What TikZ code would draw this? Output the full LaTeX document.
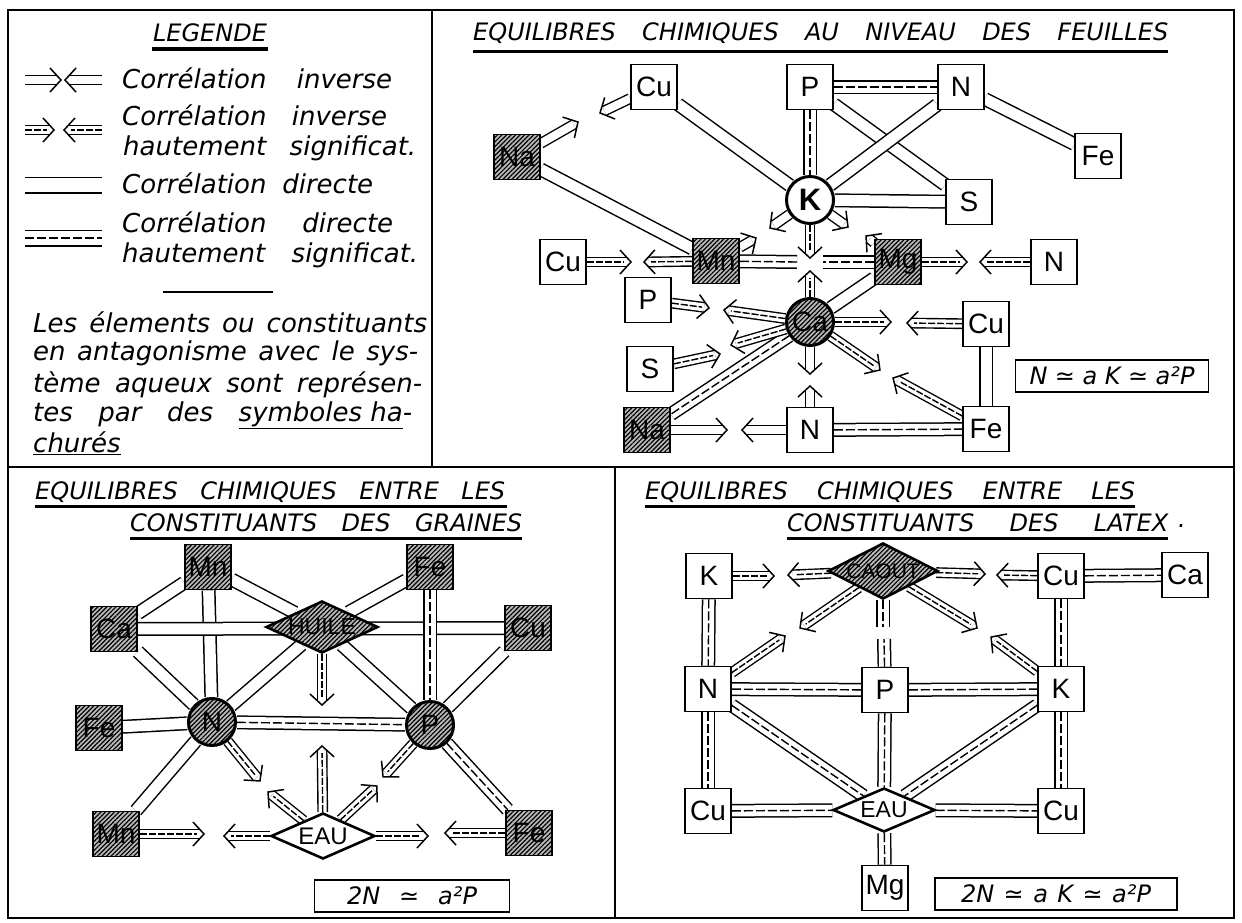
\documentclass[tikz,border=0pt]{standalone}
\usepackage{fontspec}
\setmainfont{Liberation Sans}
\newfontfamily\hand{DejaVu Sans}[ItalicFont={DejaVu Sans Oblique}]
\usetikzlibrary{arrows.meta,shapes.geometric,patterns.meta,calc,decorations.markings}
\pgfdeclarelayer{bg}
\pgfsetlayers{bg,main}
\newcommand\sprd[2]{\makebox[#1pt][s]{#2}}
\tikzset{
  el/.style={draw, line width=1.7pt, fill=white, minimum width=46pt, minimum height=45pt, inner sep=0pt, font=\fontsize{28}{28}\selectfont},
  hat/.style={pattern={Lines[angle=45,distance=3.2pt,line width=1.2pt]}, preaction={fill=gray!55}},
  hel/.style={el, hat},
  circ/.style={circle, draw, line width=3pt, fill=white, minimum size=47pt, inner sep=0pt, font=\fontsize{28}{28}\selectfont},
  hcirc/.style={circ, hat},
  dia/.style={diamond, draw, line width=2.6pt, fill=white, inner sep=0pt, aspect=2.2, font=\fontsize{23}{23}\selectfont},
  hdia/.style={dia, hat},
  eqbox/.style={draw, line width=1.6pt, fill=white, inner sep=0pt, minimum height=32pt, font=\hand\itshape\fontsize{24}{24}\selectfont},
  title/.style={anchor=west, inner sep=0pt, font=\hand\itshape\fontsize{24}{24}\selectfont},
  legtext/.style={anchor=west, inner sep=0pt, font=\hand\itshape\fontsize{26}{26}\selectfont},
  dir/.style={draw, line width=1.5pt, double=white, double distance=11pt},
  mid/.style={postaction={draw=black, -, double=black, double distance=0.3pt, line width=0.55pt, dash pattern=on 9pt off 3pt}},
  dirhs/.style={dir, mid},
  chevron/.style={postaction={decorate, decoration={markings, mark=at position 1 with {\draw[line width=1.5pt, solid, -, shorten >=0pt, shorten <=0pt, line join=miter] (-11pt,12pt) -- (0pt,0pt) -- (-11pt,-12pt);}}}},
  inv/.style={draw, line width=1.4pt, double=white, double distance=8pt, shorten >=5pt, chevron},
  invhs/.style={inv, postaction={draw=black, -, double=black, double distance=0.3pt, line width=0.55pt, dash pattern=on 7pt off 2pt, shorten >=7pt}},
  rule/.style={line width=3pt},
  frame/.style={line width=2.5pt},
}
\begin{document}
\begin{tikzpicture}[x=1pt,y=-1pt]
\useasboundingbox (0,0) rectangle (1242,922);
% frame
\draw[frame] (8,10) rectangle (1234,918);
\draw[frame] (432,10) -- (432,467);
\draw[frame] (8,467) -- (1234,467);
\draw[frame] (615,467) -- (615,918);

% ---------------- legend
\node[font=\hand\itshape\fontsize{24}{24}\selectfont, inner sep=0pt] (leg) at (210,33) {LEGENDE};
\draw[line width=4pt] (152,49) -- (268,49);
\coordinate (l1a) at (25,80); \coordinate (l1b) at (61,80);
\coordinate (l1c) at (102,80); \coordinate (l1d) at (65,80);
\draw[inv] (l1a) -- (l1b);
\draw[inv] (l1c) -- (l1d);
\coordinate (l2a) at (25,130); \coordinate (l2b) at (54,130);
\coordinate (l2c) at (102,130); \coordinate (l2d) at (64,130);
\draw[invhs] (l2a) -- (l2b);
\draw[invhs] (l2c) -- (l2d);
\coordinate (l3a) at (25,185); \coordinate (l3b) at (102,185);
\draw[dir, double distance=14pt] (l3a) -- (l3b);
\coordinate (l4a) at (25,238); \coordinate (l4b) at (102,238);
\draw[dirhs, double distance=14pt] (l4a) -- (l4b);
\node[legtext] (r1) at (122,78) {\sprd{270}{Corrélation inverse}};
\node[legtext] (r2a) at (122,115) {\sprd{265}{Corrélation inverse}};
\node[legtext] (r2b) at (123,148) {\sprd{293}{hautement significat.}};
\node[legtext] (r3) at (122,183) {\sprd{251}{Corrélation directe}};
\node[legtext] (r4a) at (122,222) {\sprd{271}{Corrélation directe}};
\node[legtext] (r4b) at (122,255) {\sprd{296}{hautement significat.}};
\draw[line width=1.5pt] (163,292) -- (273,292);
\node[legtext] (p1) at (33,322) {\sprd{394}{Les élements ou constituants}};
\node[legtext] (p2) at (33,353) {\sprd{385}{en antagonisme avec le sys-}};
\node[legtext] (p3) at (33,385) {\sprd{389}{tème aqueux sont représen-}};
\node[legtext] (p4) at (33,415) {\sprd{379}{tes par des \underline{symboles ha}-}};
\node[legtext] (p5) at (33,443) {\underline{churés}};

% ---------------- titles
\node[title] (T1) at (473,33) {\sprd{695}{EQUILIBRES CHIMIQUES AU NIVEAU DES FEUILLES}};
\draw[rule] (473,51) -- (1168,51);
\node[title] (T2) at (35,492) {\sprd{470}{EQUILIBRES CHIMIQUES ENTRE LES}};
\draw[rule] (35,506) -- (507,506);
\node[title] (T3) at (130,523) {\sprd{392}{CONSTITUANTS DES GRAINES}};
\draw[rule] (130,538) -- (522,538);
\node[title] (T4) at (645,492) {\sprd{490}{EQUILIBRES CHIMIQUES ENTRE LES}};
\draw[rule] (645,506) -- (1135,506);
\node[title] (T5) at (787,523) {\sprd{381}{CONSTITUANTS DES LATEX}};
\draw[rule] (787,538) -- (1168,538);
\node[title] (T6) at (1178,526) {.};

% ---------------- top right: feuilles
\node[el] (tCu) at (654,87) {Cu};
\node[el] (tP) at (810,87) {P};
\node[el] (tN) at (961,87) {N};
\node[el] (tFe) at (1098,156) {Fe};
\node[el] (tS) at (969,202) {S};
\node[hel] (tNa) at (517,157) {Na};
\node[circ, font=\bfseries\fontsize{31}{31}\selectfont] (tK) at (810,200) {K};
\node[hel] (tMn) at (716,261) {Mn};
\node[hel] (tMg) at (898,262) {Mg};
\node[el] (tCu2) at (563,262) {Cu};
\node[el] (tN2) at (1054,262) {N};
\node[el] (tP2) at (648,300) {P};
\node[hcirc] (tCa) at (810,322) {Ca};
\node[el] (tCu3) at (986,324) {Cu};
\node[el] (tS2) at (650,369) {S};
\node[hel] (tNa2) at (647,430) {Na};
\node[el] (tN3) at (810,430) {N};
\node[el] (tFe2) at (986,429) {Fe};
\node[eqbox, minimum width=193pt] (teq) at (1112,376) {\sprd{165}{N {\upshape≃} a K {\upshape≃} a²P}};

\coordinate (x1) at (578,122); \coordinate (x2) at (600,113);
\coordinate (x3) at (770,228); \coordinate (x4) at (756,238);
\coordinate (x5) at (848,227); \coordinate (x6) at (866,236);
\coordinate (x7) at (810,258); \coordinate (x8) at (810,271);
\coordinate (x9) at (631,262); \coordinate (x10) at (644,262);
\coordinate (x11) at (967,262); \coordinate (x12) at (980,262);
\coordinate (x13) at (709,308); \coordinate (x14) at (724,310);
\coordinate (x15) at (720,354); \coordinate (x16) at (731,345);
\coordinate (x17) at (891,322); \coordinate (x18) at (907,323);
\coordinate (x19) at (880,370); \coordinate (x20) at (893,378);
\coordinate (x21) at (810,374); \coordinate (x22) at (810,386);
\coordinate (x23) at (727,430); \coordinate (x24) at (742,430);
\coordinate (g1) at (797,262); \coordinate (g2) at (823,262);

\begin{pgfonlayer}{bg}
\draw[dir] (tCu) -- (tK);
\draw[dir] (tNa) -- (tMn);
\draw[dirhs] (tP) -- (tK);
\draw[dirhs] (tP) -- (tN);
\draw[dir] (tP) -- (tS);
\draw[dir] (tN) -- (tK);
\draw[dir] (tN) -- (tFe);
\draw[dir] (tK) -- (tS);
\draw[dir] (tCa) -- (tMg);
\draw[dirhs] (tCa) -- (tNa2);
\draw[dirhs] (tN3) -- (tFe2);
\draw[dir] (tCu3) -- (tFe2);
\draw[dirhs] (tMn) -- (g1);
\draw[dirhs] (tMg) -- (g2);
\draw[inv] (tNa) -- (x1);
\draw[inv] (tCu) -- (x2);
\draw[inv] (tK) -- (x3);
\draw[inv] (tMn) -- (x4);
\draw[inv] (tK) -- (x5);
\draw[inv] (tMg) -- (x6);
\draw[invhs] (tK) -- (x7);
\draw[invhs] (tCa) -- (x8);
\draw[invhs] (tCu2) -- (x9);
\draw[invhs] (tMn) -- (x10);
\draw[invhs] (tMg) -- (x11);
\draw[invhs] (tN2) -- (x12);
\draw[invhs] (tP2) -- (x13);
\draw[invhs] (tCa) -- (x14);
\draw[invhs] (tS2) -- (x15);
\draw[invhs] (tCa) -- (x16);
\draw[invhs] (tCa) -- (x17);
\draw[invhs] (tCu3) -- (x18);
\draw[invhs] (tCa) -- (x19);
\draw[invhs] (tFe2) -- (x20);
\draw[inv] (tCa) -- (x21);
\draw[inv] (tN3) -- (x22);
\draw[inv] (tNa2) -- (x23);
\draw[inv] (tN3) -- (x24);
\end{pgfonlayer}

% ---------------- bottom left: graines
\node[hel] (gMn) at (208,567) {Mn};
\node[hel] (gCa) at (114,629) {Ca};
\node[hel] (gFe) at (99,728) {Fe};
\node[hel] (gMn2) at (116,834) {Mn};
\node[hcirc] (gN) at (212,722) {N};
\node[hdia, minimum width=112pt, minimum height=52pt] (gH) at (322,627) {HUILE};
\node[dia, minimum width=104pt, minimum height=46pt, font=\fontsize{24}{24}\selectfont] (gE) at (323,836) {EAU};
\node[hel] (gFe2) at (430,567) {Fe};
\node[hel] (gCu) at (528,628) {Cu};
\node[hcirc] (gP) at (430,725) {P};
\node[hel] (gFe3) at (529,833) {Fe};
\node[eqbox, minimum width=195pt] (geq) at (412,896) {\sprd{130}{2N {\upshape≃} a²P}};

\coordinate (y1) at (260,781); \coordinate (y2) at (268,792);
\coordinate (y3) at (322,705); \coordinate (y4) at (322,746);
\coordinate (y5) at (383,777); \coordinate (y6) at (377,786);
\coordinate (y7) at (204,834); \coordinate (y8) at (224,836);
\coordinate (y9) at (428,836); \coordinate (y10) at (445,833);

\begin{pgfonlayer}{bg}
\draw[dir] (gMn) -- (gCa);
\draw[dir] (gMn) -- (gN);
\draw[dir] (gMn) -- (gH);
\draw[dir] (gCa) -- (gCu);
\draw[dir] (gCa) -- (gN);
\draw[dir] (gFe) -- (gN);
\draw[dirhs] (gN) -- (gP);
\draw[dir] (gN) -- (gMn2);
\draw[dir] (gH) -- (gN);
\draw[dir] (gH) -- (gP);
\draw[dir] (gFe2) -- (gH);
\draw[dirhs] (gFe2) -- (gP);
\draw[dir] (gCu) -- (gP);
\draw[dirhs] (gP) -- (gFe3);
\draw[invhs] (gN) -- (y1);
\draw[invhs] (gE) -- (y2);
\draw[invhs] (gH) -- (y3);
\draw[invhs] (gE) -- (y4);
\draw[invhs] (gP) -- (y5);
\draw[invhs] (gE) -- (y6);
\draw[invhs] (gMn2) -- (y7);
\draw[invhs] (gE) -- (y8);
\draw[invhs] (gE) -- (y9);
\draw[invhs] (gFe3) -- (y10);
\end{pgfonlayer}

% ---------------- bottom right: latex
\node[el] (lK) at (709,576) {K};
\node[hdia, minimum width=110pt, minimum height=56pt, font=\fontsize{21}{21}\selectfont] (lC) at (883,571) {CAOUT};
\node[el] (lCu) at (1061,576) {Cu};
\node[el] (lCa) at (1185,575) {Ca};
\node[el] (lN) at (708,689) {N};
\node[el] (lP) at (885,690) {P};
\node[el] (lK2) at (1061,689) {K};
\node[el] (lCu2) at (708,811) {Cu};
\node[dia, minimum width=102pt, minimum height=44pt] (lE) at (884,810) {EAU};
\node[el] (lCu3) at (1061,811) {Cu};
\node[el] (lMg) at (885,888) {Mg};
\node[eqbox, minimum width=242pt] (leq) at (1056,894) {\sprd{190}{2N {\upshape≃} a K {\upshape≃} a²P}};

\coordinate (z1) at (774,576); \coordinate (z2) at (788,575);
\coordinate (z3) at (985,574); \coordinate (z4) at (997,575);
\coordinate (z5) at (800,628); \coordinate (z6) at (785,636);
\coordinate (z7) at (977,628); \coordinate (z8) at (991,637);
\coordinate (z9) at (883,627); \coordinate (z10) at (884,639);

\begin{pgfonlayer}{bg}
\draw[dirhs] (lCu) -- (lCa);
\draw[dirhs] (lK) -- (lN);
\draw[dirhs] (lN) -- (lCu2);
\draw[dirhs] (lCu) -- (lK2);
\draw[dirhs] (lK2) -- (lCu3);
\draw[dirhs] (lN) -- (lP);
\draw[dirhs] (lP) -- (lK2);
\draw[dirhs] (lN) -- (lE);
\draw[dirhs] (lK2) -- (lE);
\draw[dirhs] (lCu2) -- (lE);
\draw[dirhs] (lE) -- (lCu3);
\draw[dirhs] (lE) -- (lMg);
\draw[dirhs] (lP) -- (lE);
\draw[dirhs] (lC) -- (z9);
\draw[dirhs] (lP) -- (z10);
\draw[invhs] (lK) -- (z1);
\draw[invhs] (lC) -- (z2);
\draw[invhs] (lC) -- (z3);
\draw[invhs] (lCu) -- (z4);
\draw[invhs] (lC) -- (z5);
\draw[invhs] (lN) -- (z6);
\draw[invhs] (lC) -- (z7);
\draw[invhs] (lK2) -- (z8);
\end{pgfonlayer}
\end{tikzpicture}
\end{document}
